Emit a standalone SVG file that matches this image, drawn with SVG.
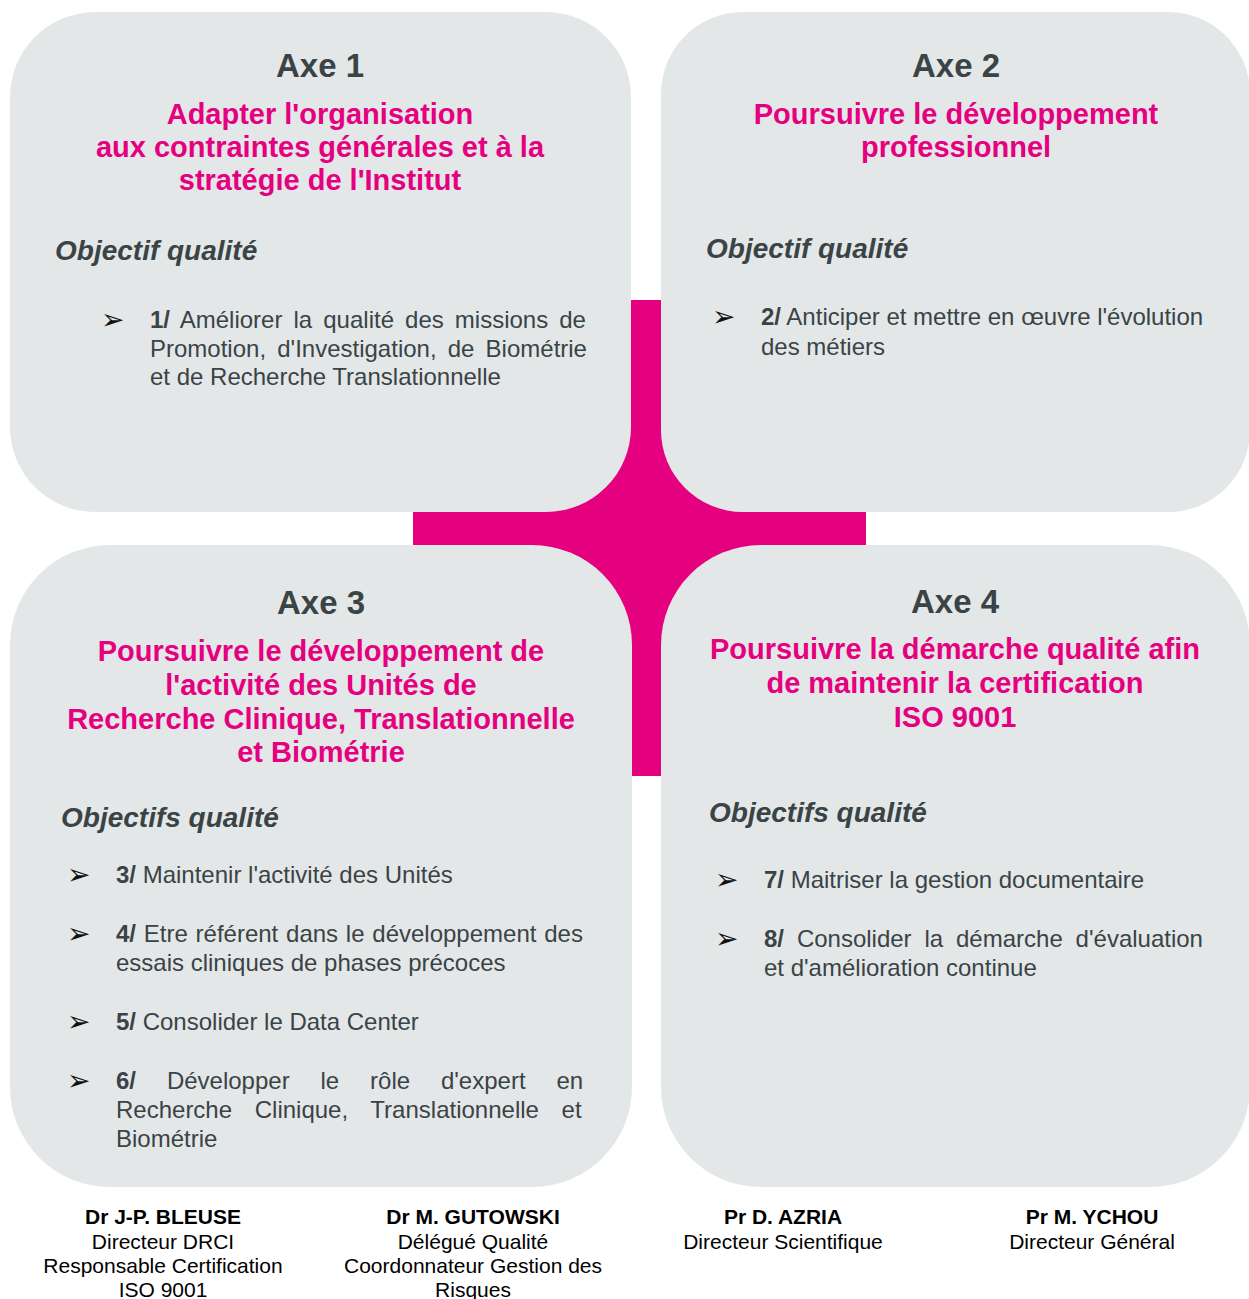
<svg xmlns="http://www.w3.org/2000/svg" width="1249" height="1299" viewBox="0 0 1249 1299">
<style>
.box{fill:#e4e7e8}
.cross{fill:#e4007f}
.axe{font-family:"Liberation Sans",Arial,sans-serif;font-weight:bold;font-size:33px;fill:#3a4346;text-anchor:middle}
.ttl{font-family:"Liberation Sans",Arial,sans-serif;font-weight:bold;font-size:29px;fill:#e4007f;text-anchor:middle}
.obj{font-family:"Liberation Sans",Arial,sans-serif;font-weight:bold;font-style:italic;font-size:28px;fill:#3a4346}
.txt{font-family:"Liberation Sans",Arial,sans-serif;font-size:24px;fill:#3a4346}
.b{font-weight:bold}
.bul{font-family:"DejaVu Sans",sans-serif;font-size:28px;fill:#111}
.ft{font-family:"Liberation Sans",Arial,sans-serif;font-size:21px;fill:#000;text-anchor:middle}
</style>
<rect width="1249" height="1299" fill="#ffffff"/>
<g id="connectors">
<rect class="cross" x="413" y="300" width="453" height="476" rx="6" ry="3"/>
</g>
<g id="axe1">
<rect class="box" x="10" y="12" width="621" height="500" rx="85" ry="85"/>
<text class="axe" x="320" y="77">Axe 1</text>
<text class="ttl" x="320" y="124">Adapter l'organisation</text>
<text class="ttl" x="320" y="157">aux contraintes générales et à la</text>
<text class="ttl" x="320" y="190">stratégie de l'Institut</text>
<text class="obj" x="55" y="260">Objectif qualité</text>
<text class="bul" x="101" y="329">➢</text>
<text class="txt" x="150" y="328" word-spacing="4.4"><tspan class="b">1/</tspan> Améliorer la qualité des missions de</text>
<text class="txt" x="150" y="357" word-spacing="4.5">Promotion, d'Investigation, de Biométrie</text>
<text class="txt" x="150" y="385">et de Recherche Translationnelle</text>
</g>
<g id="axe2">
<rect class="box" x="661" y="12" width="589" height="500" rx="82" ry="82"/>
<text class="axe" x="956" y="77">Axe 2</text>
<text class="ttl" x="956" y="124">Poursuivre le développement</text>
<text class="ttl" x="956" y="157">professionnel</text>
<text class="obj" x="706" y="258">Objectif qualité</text>
<text class="bul" x="712" y="326">➢</text>
<text class="txt" x="761" y="325"><tspan class="b">2/</tspan> Anticiper et mettre en œuvre l'évolution</text>
<text class="txt" x="761" y="355">des métiers</text>
</g>
<g id="axe3">
<rect class="box" x="10" y="545" width="622" height="642" rx="100" ry="100"/>
<text class="axe" x="321" y="614">Axe 3</text>
<text class="ttl" x="321" y="661">Poursuivre le développement de</text>
<text class="ttl" x="321" y="695">l'activité des Unités de</text>
<text class="ttl" x="321" y="729">Recherche Clinique, Translationnelle</text>
<text class="ttl" x="321" y="762">et Biométrie</text>
<text class="obj" x="61" y="827">Objectifs qualité</text>
<text class="bul" x="67" y="884">➢</text>
<text class="txt" x="116" y="883"><tspan class="b">3/</tspan> Maintenir l'activité des Unités</text>
<text class="bul" x="67" y="943">➢</text>
<text class="txt" x="116" y="942" word-spacing="1.1"><tspan class="b">4/</tspan> Etre référent dans le développement des</text>
<text class="txt" x="116" y="971">essais cliniques de phases précoces</text>
<text class="bul" x="67" y="1031">➢</text>
<text class="txt" x="116" y="1030"><tspan class="b">5/</tspan> Consolider le Data Center</text>
<text class="bul" x="67" y="1090">➢</text>
<text class="txt" x="116" y="1089" word-spacing="24.2"><tspan class="b">6/</tspan> Développer le rôle d'expert en</text>
<text class="txt" x="116" y="1118" word-spacing="16">Recherche Clinique, Translationnelle et</text>
<text class="txt" x="116" y="1147">Biométrie</text>
</g>
<g id="axe4">
<rect class="box" x="661" y="545" width="589" height="642" rx="100" ry="100"/>
<text class="axe" x="955" y="613">Axe 4</text>
<text class="ttl" x="955" y="659">Poursuivre la démarche qualité afin</text>
<text class="ttl" x="955" y="693">de maintenir la certification</text>
<text class="ttl" x="955" y="727">ISO 9001</text>
<text class="obj" x="709" y="822">Objectifs qualité</text>
<text class="bul" x="715" y="889">➢</text>
<text class="txt" x="764" y="888"><tspan class="b">7/</tspan> Maitriser la gestion documentaire</text>
<text class="bul" x="715" y="948">➢</text>
<text class="txt" x="764" y="947" word-spacing="6.2"><tspan class="b">8/</tspan> Consolider la démarche d'évaluation</text>
<text class="txt" x="764" y="976">et d'amélioration continue</text>
</g>
<g id="signatures">
<g id="sig1">
<text class="ft" x="163" y="1224" font-weight="bold">Dr J-P. BLEUSE</text>
<text class="ft" x="163" y="1249">Directeur DRCI</text>
<text class="ft" x="163" y="1273">Responsable Certification</text>
<text class="ft" x="163" y="1297">ISO 9001</text>
</g>
<g id="sig2">
<text class="ft" x="473" y="1224" font-weight="bold">Dr M. GUTOWSKI</text>
<text class="ft" x="473" y="1249">Délégué Qualité</text>
<text class="ft" x="473" y="1273">Coordonnateur Gestion des</text>
<text class="ft" x="473" y="1297">Risques</text>
</g>
<g id="sig3">
<text class="ft" x="783" y="1224" font-weight="bold">Pr D. AZRIA</text>
<text class="ft" x="783" y="1249">Directeur Scientifique</text>
</g>
<g id="sig4">
<text class="ft" x="1092" y="1224" font-weight="bold">Pr M. YCHOU</text>
<text class="ft" x="1092" y="1249">Directeur Général</text>
</g>
</g>
</svg>
